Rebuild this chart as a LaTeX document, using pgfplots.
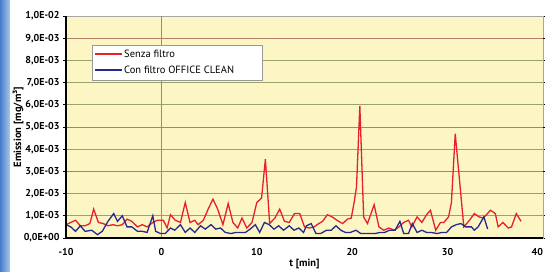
\documentclass[border=0pt]{standalone}
\usepackage{fontspec}
\setmainfont{PT Sans}
\usepackage{pgfplots}
\pgfplotsset{compat=1.18}
\definecolor{bgyellow}{RGB}{252,246,196}
\definecolor{redline}{RGB}{232,32,42}
\definecolor{blueline}{RGB}{38,42,140}
\definecolor{gridgreen}{RGB}{155,163,105}
\definecolor{gridbrown}{RGB}{180,128,105}
\definecolor{skyA}{RGB}{70,125,200}
\definecolor{skyB}{RGB}{170,200,235}
\begin{document}
\begin{tikzpicture}
\begin{axis}[
  name=ax,
  scale only axis, width=477pt, height=222pt,
  xmin=-10, xmax=40, ymin=0, ymax=10,
  xtick={-10,0,10,20,30,40},
  xticklabels={-10,0,10,20,30,{40\hphantom{00}}},
  ytick={0,1,2,3,4,5,6,7,8,9,10},
  yticklabels={{0,0E+00},{1,0E-03},{2,0E-03},{3,0E-03},{4,0E-03},{5,0E-03},{6,0E-03},{7,0E-03},{8,0E-03},{9,0E-03},{1,0E-02}},
  /pgf/number format/assume math mode=true,
  ticklabel style={font=\fontsize{10}{12}\selectfont\bfseries},
  xticklabel style={yshift=-4pt},
  axis background/.style={fill=bgyellow},
  ymajorgrids, major grid style={gridgreen, line width=0.9pt},
  extra x ticks={0}, extra x tick labels={},
  extra x tick style={grid=major, major grid style={gridbrown, line width=0.9pt}, major tick length=0pt},
  extra y ticks={3,5,9}, extra y tick labels={},
  extra y tick style={grid=major, major grid style={gridbrown, line width=0.9pt}},
  axis line style={draw=gray!70, line width=0.6pt},
  tick align=outside, major tick length=3pt,
  xtick style={draw=none}, ytick style={black, line width=0.6pt},
  xlabel={\bfseries t [min]},
  ylabel={\bfseries Emission [mg/m³]},
  label style={font=\fontsize{10.5}{12}\selectfont},
  xlabel style={at={(axis description cs:0.5,0)}, anchor=north, yshift=-18pt},
  ylabel style={at={(axis description cs:-0.1006,0.5)}, anchor=center},
  clip=false,
]
\coordinate (O) at (rel axis cs:0,0);
\addplot[redline, line width=1.3pt] coordinates {
(-10.0,0.6) (-9.5,0.7) (-9.0,0.8) (-8.5,0.55) (-8.0,0.55) (-7.5,0.65) (-7.1,1.3)
(-6.6,0.7) (-6.1,0.65) (-5.6,0.55) (-5.1,0.6) (-4.6,0.55) (-4.1,0.6) (-3.6,0.85)
(-3.1,0.75) (-2.5,0.5) (-2.0,0.6) (-1.5,0.5) (-0.9,0.7) (-0.4,0.8) (0.2,0.8)
(0.6,0.45) (0.95,1.05) (1.45,0.8) (2.0,0.7) (2.5,1.6) (3.0,0.7) (3.5,0.8)
(3.85,0.6) (4.4,0.8) (4.9,1.3) (5.4,1.75) (5.9,1.3) (6.45,0.6) (7.0,1.55)
(7.5,0.7) (8.0,0.45) (8.45,0.9) (8.95,0.45) (9.5,0.7) (10.0,1.6) (10.5,1.8)
(10.9,3.55) (11.35,0.65) (11.9,0.9) (12.4,1.3) (12.9,0.75) (13.4,0.7) (13.95,1.1)
(14.5,1.1) (15.0,0.5) (15.5,0.45) (16.0,0.5) (16.5,0.65) (16.9,0.75) (17.4,1.05)
(17.9,0.95) (18.4,0.8) (19.0,0.65) (19.5,0.85) (19.9,0.9) (20.2,1.6) (20.45,2.3)
(20.8,5.95) (21.2,0.95) (21.6,0.65) (22.3,1.5) (22.8,0.5) (23.3,0.35) (23.85,0.45)
(24.4,0.35) (24.9,0.5) (25.4,0.7) (25.9,0.8) (26.25,0.5) (26.8,0.95) (27.3,0.7)
(27.8,1.05) (28.2,1.25) (28.75,0.35) (29.25,0.7) (29.6,0.7) (30.1,0.95) (30.4,1.6)
(30.8,4.7) (31.7,0.5) (32.3,0.8) (32.8,1.1) (33.3,0.95) (33.75,0.9) (34.5,1.25)
(35.0,1.1) (35.3,0.5) (35.8,0.7) (36.35,0.45) (36.7,0.5) (37.2,1.1) (37.7,0.75)
};
\addplot[blueline, line width=1.3pt] coordinates {
(-10.0,0.6) (-9.5,0.5) (-9.0,0.3) (-8.5,0.55) (-8.0,0.3) (-7.3,0.35) (-6.7,0.15)
(-6.2,0.3) (-5.6,0.75) (-5.0,1.1) (-4.6,0.75) (-4.1,1.0) (-3.6,0.5) (-3.1,0.5)
(-2.5,0.3) (-2.0,0.3) (-1.5,0.25) (-0.9,1.0) (-0.6,0.3) (-0.1,0.2) (0.4,0.2)
(0.95,0.45) (1.4,0.35) (2.0,0.6) (2.5,0.25) (3.0,0.45) (3.5,0.25) (4.1,0.55)
(4.6,0.4) (5.2,0.6) (5.7,0.4) (6.2,0.45) (6.7,0.25) (7.3,0.2) (7.8,0.25)
(8.3,0.25) (8.8,0.25) (9.3,0.4) (9.85,0.6) (10.3,0.25) (10.8,0.7) (11.3,0.6)
(11.8,0.4) (12.3,0.55) (12.8,0.35) (13.4,0.55) (13.9,0.35) (14.4,0.45) (14.9,0.25)
(15.2,0.55) (15.7,0.65) (16.2,0.2) (16.7,0.2) (17.3,0.35) (17.8,0.35) (18.3,0.55)
(18.8,0.35) (19.3,0.25) (19.8,0.25) (20.4,0.35) (20.9,0.2) (21.4,0.2) (21.9,0.2)
(22.4,0.2) (22.9,0.25) (23.4,0.25) (23.9,0.35) (24.5,0.35) (25.0,0.75) (25.4,0.2)
(25.9,0.2) (26.3,0.65) (26.8,0.25) (27.3,0.35) (27.8,0.25) (28.3,0.25) (28.9,0.2)
(29.4,0.25) (29.9,0.25) (30.4,0.5) (30.9,0.6) (31.4,0.65) (31.9,0.5) (32.5,0.5)
(32.8,0.35) (33.2,0.5) (33.8,0.95) (34.2,0.4)
};
\draw[black, line width=1.6pt] (rel axis cs:0,1) -- (rel axis cs:0,0) -- (rel axis cs:1,0);
\end{axis}
\pgfresetboundingbox
\path[use as bounding box] ([shift={(-66pt,-34pt)}]O) rectangle ++(545pt,272pt);
\shade[left color=skyA, right color=skyB] ([shift={(-66pt,-34pt)}]O) rectangle ++(10pt,272pt);
% legend
\draw[gray!80, fill=white, line width=0.6pt] ([shift={(26pt,158pt)}]O) rectangle ++(170pt,35pt);
\draw[redline, line width=1.3pt] ([shift={(29pt,184pt)}]O) -- ++(27pt,0pt);
\draw[blueline, line width=1.3pt] ([shift={(29pt,168pt)}]O) -- ++(27pt,0pt);
\node[anchor=west, inner sep=0pt, font=\fontsize{10.5}{12}\selectfont] at ([shift={(58pt,184pt)}]O) {Senza filtro};
\node[anchor=west, inner sep=0pt, font=\fontsize{10.5}{12}\selectfont] at ([shift={(58pt,168pt)}]O) {Con filtro OFFICE CLEAN};
\end{tikzpicture}
\end{document}
